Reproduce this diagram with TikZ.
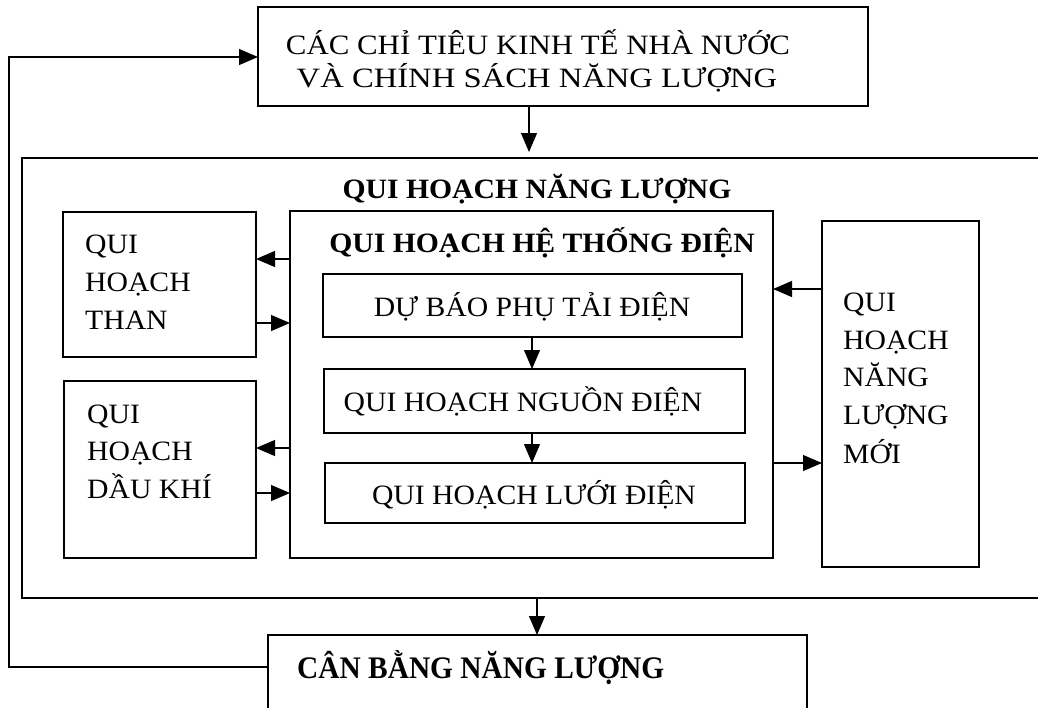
\documentclass[tikz,border=0pt]{standalone}
\usepackage{fontspec}
\setmainfont{Liberation Serif}[FakeStretch=1.06]
\usetikzlibrary{arrows.meta,fit}
\begin{document}
\begin{tikzpicture}[x=1pt,y=-1pt,
  box/.style={draw, line width=1.5pt, inner sep=0pt, outer sep=0pt},
  txt/.style={font=\fontsize{28}{33}\selectfont, inner sep=0pt, anchor=base},
  ltxt/.style={font=\fontsize{28}{33}\selectfont, inner sep=0pt, anchor=base west},
  btxt/.style={font=\fontsize{28}{33}\selectfont\bfseries, inner sep=0pt, anchor=base},
  arr/.style={line width=1.1pt, -{Triangle[length=19pt,width=16pt]}}]
\useasboundingbox (0,0) rectangle (1038,707);
\begin{scope}
\clip (0,0) rectangle (1038,707);
% boxes
\node[box, fit={(258,7) (868,106)}] (top) {};
\node[box, fit={(22,158) (1080,598)}] (frame) {};
\node[box, fit={(63,212) (256,357)}] (than) {};
\node[box, fit={(64,381) (256,558)}] (dau) {};
\node[box, fit={(290,211) (773,558)}] (htd) {};
\node[box, fit={(323,274) (742,337)}] (dubao) {};
\node[box, fit={(324,369) (745,433)}] (nguon) {};
\node[box, fit={(325,463) (745,523)}] (luoi) {};
\node[box, fit={(822,221) (979,567)}] (moi) {};
\node[box, fit={(268,635) (807,780)}] (cb) {};
% texts
\node[txt] (t1) at (538,54) {\scalebox{1.04}[1]{CÁC CHỈ TIÊU KINH TẾ NHÀ NƯỚC}};
\node[txt] (t2) at (537,87) {\scalebox{1.1}[1]{VÀ CHÍNH SÁCH NĂNG LƯỢNG}};
\node[btxt] (t3) at (537,198) {QUI HOẠCH NĂNG LƯỢNG};
\node[btxt] (t4) at (542,252) {QUI HOẠCH HỆ THỐNG ĐIỆN};
\node[txt] (t5) at (532,316) {DỰ BÁO PHỤ TẢI ĐIỆN};
\node[txt] (t6) at (523,411) {QUI HOẠCH NGUỒN ĐIỆN};
\node[txt] (t7) at (534,504) {QUI HOẠCH LƯỚI ĐIỆN};
\node[ltxt] (t8) at (85,253) {QUI};
\node[ltxt] (t9) at (85,291) {HOẠCH};
\node[ltxt] (t10) at (85,329) {THAN};
\node[ltxt] (t11) at (87,423) {QUI};
\node[ltxt] (t12) at (87,460) {HOẠCH};
\node[ltxt] (t13) at (87,498) {DẦU KHÍ};
\node[ltxt] (t14) at (843,311) {QUI};
\node[ltxt] (t15) at (843,349) {HOẠCH};
\node[ltxt] (t16) at (843,386) {NĂNG};
\node[ltxt] (t17) at (843,424) {LƯỢNG};
\node[ltxt] (t18) at (843,463) {MỚI};
\node[btxt, anchor=base west] (t19) at (297,678) {\scalebox{0.99}[1.12]{CÂN BẰNG NĂNG LƯỢNG}};
% helper coordinates
\coordinate (a1) at (529,0);
\coordinate (a2) at (537,0);
\coordinate (a3) at (532,0);
\coordinate (h1) at (0,259);
\coordinate (h2) at (0,323);
\coordinate (h3) at (0,448);
\coordinate (h4) at (0,493);
\coordinate (h5) at (0,289);
\coordinate (h6) at (0,463);
\coordinate (f1) at (9,667);
\coordinate (f2) at (9,57);
\coordinate (e1) at (0,152);
% connectors
\draw[arr] (top.south -| a1) -- (e1 -| a1);
\draw[arr] (frame.south -| a2) -- (cb.north -| a2);
\draw[arr] (dubao.south -| a3) -- (nguon.north -| a3);
\draw[arr] (nguon.south -| a3) -- (luoi.north -| a3);
\draw[arr] (htd.west |- h1) -- (than.east |- h1);
\draw[arr] (than.east |- h2) -- (htd.west |- h2);
\draw[arr] (htd.west |- h3) -- (dau.east |- h3);
\draw[arr] (dau.east |- h4) -- (htd.west |- h4);
\draw[arr] (moi.west |- h5) -- (htd.east |- h5);
\draw[arr] (htd.east |- h6) -- (moi.west |- h6);
\draw[arr] (cb.west |- f1) -- (f1) -- (f2) -- (top.west |- f2);
\end{scope}
\end{tikzpicture}
\end{document}
